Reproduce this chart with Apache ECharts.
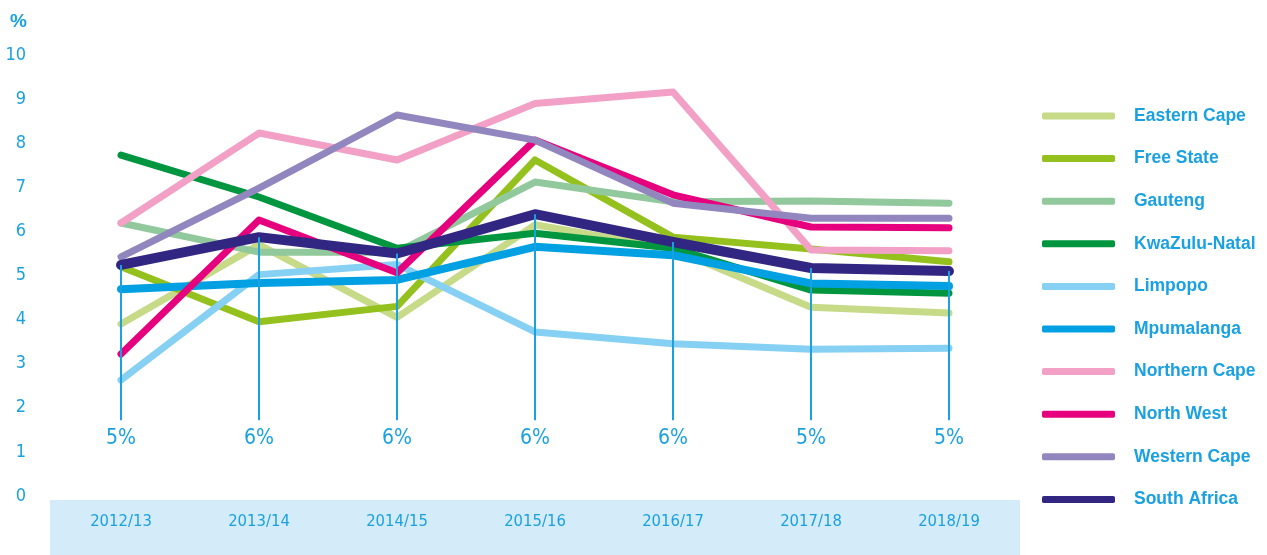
<!DOCTYPE html>
<html>
<head>
<meta charset="utf-8">
<script src="https://cdn.jsdelivr.net/npm/echarts@6/dist/echarts.min.js"></script>
<style>
  html, body { margin: 0; padding: 0; background: #fff; }
  #chart { width: 1267px; height: 555px; }
</style>
</head>
<body>
<div id="chart"></div>
<script>
const years = ['2012/13', '2013/14', '2014/15', '2015/16', '2016/17', '2017/18', '2018/19'];

const easternCape  = [3.9, 5.7, 4.05, 6.15, 5.6, 4.28, 4.15];
const freeState    = [5.2, 3.95, 4.3, 7.62, 5.87, 5.6, 5.31];
const gauteng      = [6.19, 5.53, 5.53, 7.12, 6.67, 6.69, 6.64];
const kwaZulu      = [7.73, 6.78, 5.62, 5.96, 5.62, 4.67, 4.6];
const limpopo      = [2.63, 5.02, 5.25, 3.72, 3.45, 3.33, 3.35];
const mpumalanga   = [4.69, 4.83, 4.9, 5.65, 5.46, 4.82, 4.76];
const northernCape = [6.19, 8.23, 7.62, 8.9, 9.16, 5.58, 5.56];
const northWest    = [3.22, 6.26, 5.06, 8.07, 6.83, 6.1, 6.08];
const westernCape  = [5.42, 6.98, 8.64, 8.07, 6.64, 6.3, 6.3];
const southAfrica  = [5.24, 5.87, 5.5, 6.39, 5.76, 5.17, 5.1];
const saLabels     = ['5%', '6%', '6%', '6%', '6%', '5%', '5%'];

const yTicks = [0, 1, 2, 3, 4, 5, 6, 7, 8, 9, 10];

const blue = '#1aa1e1';
const narrow = "'Liberation Sans Narrow', 'DejaVu Sans Condensed', sans-serif";

const chart = echarts.init(document.getElementById('chart'));

function line(name, data, color, width) {
  return {
    name: name,
    type: 'line',
    data: data,
    symbol: 'none',
    color: color,
    lineStyle: { color: color, width: width, cap: 'round', join: 'round' }
  };
}

const series = [
  line('Eastern Cape', easternCape, '#c6da88', 7),
  line('Free State', freeState, '#95c11f', 7),
  line('Gauteng', gauteng, '#91c89c', 7),
  line('KwaZulu-Natal', kwaZulu, '#00963f', 7),
  line('Limpopo', limpopo, '#86d0f4', 7),
  line('Mpumalanga', mpumalanga, '#00a0e3', 8),
  line('Northern Cape', northernCape, '#f3a0c6', 7),
  line('North West', northWest, '#e6007e', 7),
  line('Western Cape', westernCape, '#9286bf', 7),
  line('South Africa', southAfrica, '#312782', 10)
];

// vertical drop lines from the South Africa values with rounded labels
series[9].markLine = {
  silent: true,
  symbol: 'none',
  animation: false,
  lineStyle: { color: blue, width: 2, type: 'solid' },
  label: {
    show: true,
    position: 'end',
    distance: 8,
    color: blue,
    fontSize: 21,
    fontFamily: narrow,
    formatter: function (p) { return saLabels[p.dataIndex]; }
  },
  data: years.map(function (y, i) {
    return [{ coord: [y, southAfrica[i]] }, { coord: [y, 1.72] }];
  })
};

chart.setOption({
  animation: false,
  grid: { left: 52, right: 249, top: 55, bottom: 59 },
  graphic: [{
    type: 'rect',
    left: 50, top: 500,
    shape: { width: 970, height: 55 },
    style: { fill: '#d4ebfa' },
    z: -1
  }],
  legend: {
    orient: 'vertical',
    left: 1037,
    top: 101,
    icon: 'roundRect',
    itemWidth: 73,
    itemHeight: 7,
    itemGap: 22.6,
    selectedMode: false,
    textStyle: {
      color: blue,
      fontSize: 17.5,
      fontWeight: 'bold',
      fontFamily: "'Liberation Sans', Arial, sans-serif",
      lineHeight: 20,
      padding: [0, 0, 0, 14]
    },
    data: series.map(function (s) { return s.name; })
  },
  xAxis: {
    type: 'category',
    data: years,
    boundaryGap: true,
    axisLine: { show: false },
    axisTick: { show: false },
    axisLabel: { color: blue, fontSize: 16.5, fontFamily: narrow, margin: 17 }
  },
  yAxis: {
    type: 'value',
    min: yTicks[0],
    max: yTicks[yTicks.length - 1],
    interval: 1,
    name: '%',
    nameGap: 24,
    nameTextStyle: {
      color: blue, fontSize: 19, fontWeight: 'bold', fontFamily: "'Liberation Sans', Arial, sans-serif",
      align: 'right', padding: [0, 25, 0, 0]
    },
    axisLine: { show: false },
    axisTick: { show: false },
    splitLine: { show: false },
    axisLabel: { color: blue, fontSize: 18, fontFamily: narrow, margin: 26 }
  },
  series: series
});
</script>
</body>
</html>
